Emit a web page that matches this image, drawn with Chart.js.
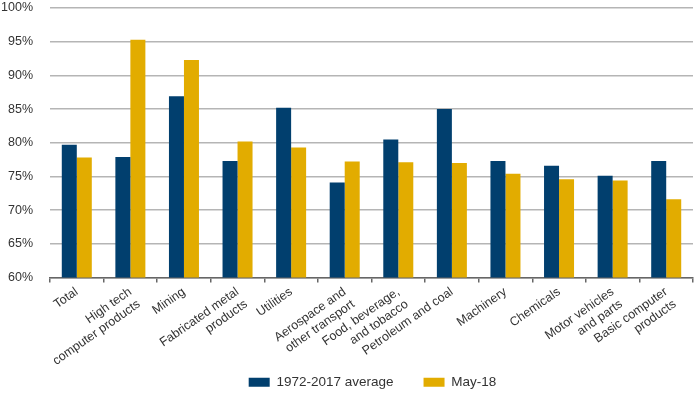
<!DOCTYPE html>
<html>
<head>
<meta charset="utf-8">
<script src="https://cdn.jsdelivr.net/npm/chart.js@4"></script>
<style>
  html, body { margin: 0; padding: 0; background: #fff; }
  #wrap { width: 700px; height: 396px; }
</style>
</head>
<body>
<div id="wrap"><canvas id="chart"></canvas></div>
<script>
// Category labels (multi-line where the original wraps)
const categories = [
    ['Total'],
    ['High tech', 'computer products'],
    ['Mining'],
    ['Fabricated metal', 'products'],
    ['Utilities'],
    ['Aerospace and', 'other transport'],
    ['Food, beverage,', 'and tobacco'],
    ['Petroleum and coal'],
    ['Machinery'],
    ['Chemicals'],
    ['Motor vehicles', 'and parts'],
    ['Basic computer', 'products']
];

// Capacity utilisation, percent
const average1972to2017 = [79.7, 77.9, 86.9, 77.3, 85.2, 74.1, 80.5, 85.0, 77.3, 76.6, 75.1, 77.3];
const may18 = [77.8, 95.3, 92.3, 80.2, 79.3, 77.2, 77.1, 77.0, 75.4, 74.6, 74.4, 71.6];

const yTicks = [60, 65, 70, 75, 80, 85, 90, 95, 100];

const fontFamily = '"Liberation Sans", Arial, Helvetica, sans-serif';

// Layout tweaks: centre the legend under the plot, and let the rotated
// x labels run past the (shortened) axis box so they are not clipped
const layoutTweaks = {
    id: 'layoutTweaks',
    afterLayout(chart) {
        if (chart.legend) {
            chart.legend.left += 52;
        }
        if (chart.scales.x) {
            chart.scales.x.bottom = chart.height;
        }
    }
};

const ctx = document.getElementById('chart').getContext('2d');
new Chart(ctx, {
    type: 'bar',
    data: {
        labels: categories,
        datasets: [
            {
                label: '1972-2017 average',
                data: average1972to2017,
                backgroundColor: '#013f6e',
                categoryPercentage: 0.56,
                barPercentage: 1.0
            },
            {
                label: 'May-18',
                data: may18,
                backgroundColor: '#e2ac00',
                categoryPercentage: 0.56,
                barPercentage: 1.0
            }
        ]
    },
    plugins: [layoutTweaks],
    options: {
        responsive: true,
        maintainAspectRatio: false,
        animation: false,
        layout: { padding: { top: 8, right: 7, left: 0, bottom: -3 } },
        plugins: {
            legend: {
                position: 'bottom',
                labels: {
                    boxWidth: 21,
                    boxHeight: 9,
                    padding: 30,
                    color: '#333',
                    font: { family: fontFamily, size: 13.5 }
                }
            },
            tooltip: { enabled: false }
        },
        scales: {
            x: {
                afterFit: (axis) => { axis.height = 68; },
                grid: {
                    offset: true,
                    drawOnChartArea: false,
                    drawTicks: true,
                    tickLength: 5,
                    color: '#666',
                    lineWidth: 1.5
                },
                border: { display: true, color: '#666', width: 1.5 },
                ticks: {
                    minRotation: 35,
                    maxRotation: 35,
                    autoSkip: false,
                    padding: 2,
                    color: '#333',
                    font: { family: fontFamily, size: 12.5 }
                }
            },
            y: {
                min: 60,
                max: 100,
                afterBuildTicks: (axis) => {
                    axis.ticks = yTicks.map((v) => ({ value: v }));
                },
                afterFit: (axis) => {
                    axis.width = 50;
                    axis.paddingTop = 0;
                    axis.paddingBottom = 0;
                },
                grid: {
                    drawTicks: false,
                    color: '#b5b5b5',
                    lineWidth: 1.5
                },
                border: { display: false },
                ticks: {
                    padding: 17,
                    color: '#333',
                    font: { family: fontFamily, size: 12.5 },
                    callback: (value) => value + '%'
                }
            }
        }
    }
});
</script>
</body>
</html>
